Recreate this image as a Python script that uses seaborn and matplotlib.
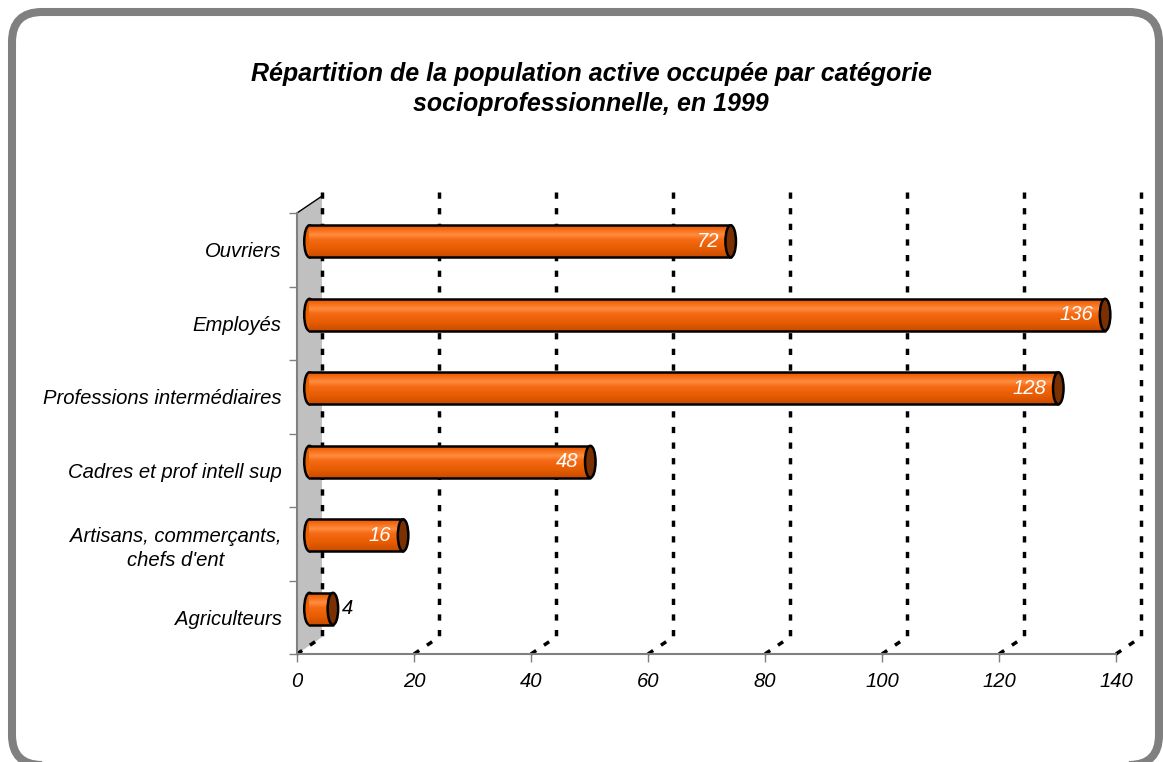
##Working population by socio-professional category, 1999
import numpy as np
import pandas as pd
import matplotlib.pyplot as plt
import seaborn as sns
from matplotlib.patches import Ellipse, Polygon, FancyBboxPatch
from matplotlib.colors import LinearSegmentedColormap

#Data
categories = ['Ouvriers', 'Employés', 'Professions intermédiaires', 'Cadres et prof intell sup',
              "Artisans, commerçants,\nchefs d'ent", 'Agriculteurs']
values = [72, 136, 128, 48, 16, 4]
x_ticks = [0, 20, 40, 60, 80, 100, 120, 140]
title = "Répartition de la population active occupée par catégorie\nsocioprofessionnelle, en 1999"

df = pd.DataFrame({'categorie': categories, 'effectif': values})

##Style
sns.set_theme(style='white')
plt.rcParams['font.family'] = ['Liberation Sans', 'DejaVu Sans']
plt.rcParams['text.color'] = 'black'

fig = plt.figure(figsize=(11.63, 7.62), dpi=100)
#axes box = front face of the fake 3d plot
ax = fig.add_axes([297 / 1163, 1 - 654 / 762, (1116 - 297) / 1163, 441 / 762])

#depth of the 3d box (x in data units, y in category units)
depth_x = 4.27
depth_y = 0.23
h = depth_y / 2
bar_w = 0.435
cap_w = 1.8
n = len(categories)
fs = 14.6

sns.barplot(data=df, x='effectif', y='categorie', orient='h', color='#F06000', saturation=1,
            width=bar_w, linewidth=0, ax=ax, zorder=3)

front_top, front_bot = -0.5 + h, n - 0.5 + h
back_top, back_bot = -0.5 - h, n - 0.5 - h

#grey side wall
wall = Polygon([(0, front_top), (depth_x, back_top), (depth_x, back_bot), (0, front_bot)],
               closed=True, fc='#C0C0C0', ec='none', zorder=1, clip_on=False)
ax.add_patch(wall)
ax.plot([0, depth_x], [front_top, back_top], color='black', lw=1, zorder=1.5, clip_on=False)

#dashed gridlines on the back plane and floor
grid_style = dict(color='black', lw=2.5, linestyle=(0, (1.8, 2.7)), zorder=2, clip_on=False)
for t in x_ticks:
    ax.plot([t + depth_x, t + depth_x], [back_top - 0.05, back_bot], **grid_style)
    ax.plot([t, t + depth_x], [front_bot, back_bot], **grid_style)

#tube shading
tube = LinearSegmentedColormap.from_list('tube', [(0, '#E05800'), (0.12, '#F46A12'), (0.3, '#FF8C3E'),
                                                  (0.45, '#F56A14'), (0.75, '#E65C00'), (1, '#C94C00')])
grad = np.linspace(0, 1, 64).reshape(-1, 1)

for p, v in zip(list(ax.patches)[:n], values):
    p.set_x(p.get_x() + depth_x / 2)
    x0 = p.get_x()
    x1 = x0 + p.get_width()
    y0 = p.get_y()
    y1 = y0 + p.get_height()
    yc = (y0 + y1) / 2
    ax.add_patch(Ellipse((x0, yc), cap_w, bar_w, fc='#E86000', ec='black', lw=1.8, zorder=2.8))
    im = ax.imshow(grad, cmap=tube, extent=[x0, x1, y1, y0], origin='upper', aspect='auto', zorder=3.2)
    im.set_clip_path(p)
    ax.plot([x0, x1], [y0, y0], color='black', lw=1.8, zorder=4)
    ax.plot([x0, x1], [y1, y1], color='black', lw=1.8, zorder=4)
    ax.add_patch(Ellipse((x1, yc), cap_w, bar_w, fc='#7A3000', ec='black', lw=1.8, zorder=5))
    if v > 10:
        ax.text(x1 - 2.0, yc, str(v), color='white', ha='right', va='center',
                fontsize=fs, fontstyle='italic', zorder=6)
    else:
        ax.text(x1 + 1.6, yc, str(v), color='black', ha='left', va='center',
                fontsize=fs, fontstyle='italic', zorder=6)

ax.set_xlim(0, 140)
ax.set_ylim(front_bot, front_top)
ax.set_xlabel('')
ax.set_ylabel('')

#axes and ticks
for s in ['top', 'right']:
    ax.spines[s].set_visible(False)
for s in ['left', 'bottom']:
    ax.spines[s].set_color('#808080')
    ax.spines[s].set_linewidth(1.5)
    ax.spines[s].set_zorder(6)

ax.set_xticks(x_ticks)
ax.set_xticklabels([str(t) for t in x_ticks])
ax.set_yticks(np.arange(n) + h)
ax.set_yticklabels(categories)
ax.set_yticks(np.arange(n + 1) - 0.5 + h, minor=True)
ax.tick_params(axis='x', bottom=True, length=5.8, width=1, color='#808080', pad=7, labelsize=fs)
ax.tick_params(axis='y', which='major', left=True, length=0, pad=11, labelsize=fs)
ax.tick_params(axis='y', which='minor', left=True, length=5.8, width=1, color='#808080')
for lbl in ax.get_xticklabels() + ax.get_yticklabels():
    lbl.set_fontstyle('italic')
    lbl.set_color('black')
    lbl.set_multialignment('center')
    lbl.set_linespacing(1.35)

#title and rounded frame
fig.text(591 / 1163, 1 - 89 / 762, title, ha='center', va='center', fontsize=18,
         fontweight='bold', fontstyle='italic', linespacing=1.3, color='black')
frame = FancyBboxPatch((0.12, -0.03), 11.47, 7.53, boxstyle='round,pad=0,rounding_size=0.3',
                       transform=fig.dpi_scale_trans, fill=False, ec='#808080', lw=5.8)
fig.add_artist(frame)

fig.savefig('out.png', dpi=100)
